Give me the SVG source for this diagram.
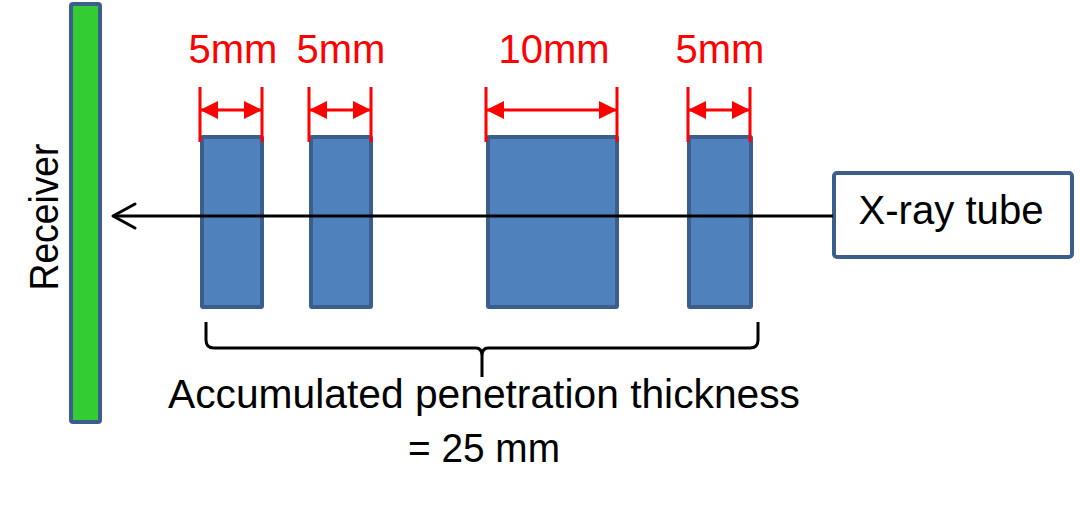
<svg xmlns="http://www.w3.org/2000/svg" width="1080" height="508" viewBox="0 0 1080 508">
<style>
.blk{fill:#4F81BD;stroke:#3B5E8C;stroke-width:4}
.dim{stroke:#FF0000;stroke-width:3;fill:none}
.lbl{font-family:"Liberation Sans",Arial,sans-serif;font-size:40px;fill:#FF0000;text-anchor:middle}
.txt{font-family:"Liberation Sans",Arial,sans-serif;font-size:40px;fill:#000;text-anchor:middle}
</style>
<defs>
<marker id="ra" viewBox="0 0 18 18" refX="17" refY="9" markerWidth="18" markerHeight="18" markerUnits="userSpaceOnUse" orient="auto-start-reverse">
<path d="M0,0 L18,9 L0,18 Z" fill="#FF0000"/>
</marker>
</defs>
<rect width="1080" height="508" fill="#FFFFFF"/>
<g id="receiver">
<rect x="71" y="4" width="29" height="418" rx="2" fill="#33CC33" stroke="#3B5E8C" stroke-width="4"/>
<text class="txt" transform="translate(58,217) rotate(-90)" font-size="38" textLength="147" lengthAdjust="spacingAndGlyphs">Receiver</text>
</g>
<g id="block1"><rect class="blk" x="202" y="137" width="60" height="170" rx="1"/></g>
<g id="block2"><rect class="blk" x="311" y="137" width="60" height="170" rx="1"/></g>
<g id="block3"><rect class="blk" x="488" y="137" width="129" height="170" rx="1"/></g>
<g id="block4"><rect class="blk" x="689" y="137" width="62" height="170" rx="1"/></g>
<g id="xray">
<rect x="834" y="173" width="238" height="84" rx="3" fill="#FFFFFF" stroke="#3B5E8C" stroke-width="4"/>
<text class="txt" x="951" y="224" textLength="185" lengthAdjust="spacingAndGlyphs">X-ray tube</text>
</g>
<g id="dimensions">
<path class="dim" d="M200,87 V142 M262,87 V142 M309,87 V142 M371,87 V142 M486,87 V142 M617,87 V142 M688,87 V142 M750,87 V142"/>
<line class="dim" x1="201" y1="110" x2="261" y2="110" marker-start="url(#ra)" marker-end="url(#ra)"/>
<line class="dim" x1="310" y1="110" x2="370" y2="110" marker-start="url(#ra)" marker-end="url(#ra)"/>
<line class="dim" x1="487" y1="110" x2="616" y2="110" marker-start="url(#ra)" marker-end="url(#ra)"/>
<line class="dim" x1="689" y1="110" x2="749" y2="110" marker-start="url(#ra)" marker-end="url(#ra)"/>
<text class="lbl" x="233" y="63">5mm</text>
<text class="lbl" x="341" y="63">5mm</text>
<text class="lbl" x="554" y="63">10mm</text>
<text class="lbl" x="720" y="63">5mm</text>
</g>
<g id="connectors">
<line x1="113" y1="216" x2="833" y2="216" stroke="#000" stroke-width="3"/>
<path d="M135,204 L113,216 L135,228" fill="none" stroke="#000" stroke-width="3" stroke-linecap="round" stroke-linejoin="round"/>
</g>
<g id="brace">
<path d="M206,322 V340 Q206,348 214,348 H476 Q482,348 482,356 V377 M482,356 Q482,348 488,348 H750 Q758,348 758,340 V322" fill="none" stroke="#000" stroke-width="3" stroke-linejoin="round"/>
<text class="txt" x="484" y="408" textLength="632" lengthAdjust="spacingAndGlyphs">Accumulated penetration thickness</text>
<text class="txt" x="484" y="462" textLength="152" lengthAdjust="spacingAndGlyphs">= 25 mm</text>
</g>
</svg>
